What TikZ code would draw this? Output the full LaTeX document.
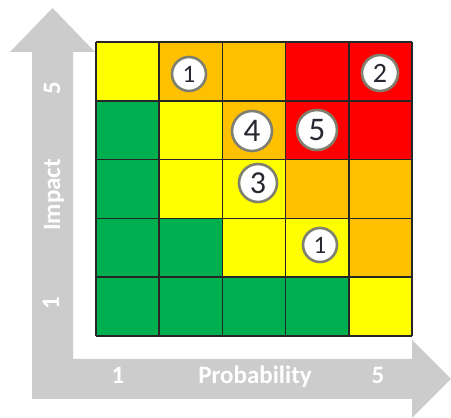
\documentclass[tikz,border=0pt]{standalone}
\usepackage{fontspec}
\setmainfont{Carlito}
\usepackage{xcolor}
\usepackage{tikz}
\usetikzlibrary{calc, positioning}

\definecolor{rgreen}{RGB}{0,176,80}
\definecolor{ryellow}{RGB}{255,255,0}
\definecolor{rorange}{RGB}{255,192,0}
\definecolor{rred}{RGB}{255,0,0}
\definecolor{arrowgray}{RGB}{204,204,204}
\definecolor{ringgray}{RGB}{128,128,112}
\definecolor{digitdark}{RGB}{40,40,50}

\tikzset{
    axislabel/.style={text=white, font=\bfseries\fontsize{12.5}{14}\selectfont, inner sep=0pt},
    riskdot/.style={circle, draw=ringgray, line width=1.3pt, fill=white, inner sep=0pt, text=digitdark}
}

\begin{document}
\begin{tikzpicture}[>=latex, x=0.5pt, y=0.5pt]
    \useasboundingbox[fill=white] (0,0) rectangle (451,418);

    % 1. Mũi tên chữ L màu xám (trục Impact và Probability)
    \fill[arrowgray] (32,19) -- (412,19) -- (412,0) -- (451,39) -- (412,78) -- (412,59)
        -- (73,59) -- (73,366) -- (95,366) -- (52.5,410) -- (10,366) -- (32,366) -- cycle;

    % Nhãn trên trục đứng
    \node[axislabel, rotate=90] (imp5) at (52,330) {5};
    \node[axislabel, rotate=90] (impact) at (54,223) {Impact};
    \node[axislabel, rotate=90] (imp1) at (51,115) {1};

    % Nhãn trên trục ngang
    \node[axislabel, anchor=base] (prob1) at (118,34) {1};
    \node[axislabel, anchor=base] (prob) at (255,34) {Probability};
    \node[axislabel, anchor=base] (prob5) at (378,34) {5};

    % 2. Các ô màu của ma trận rủi ro (hàng 1 ở dưới cùng)
    \foreach \r/\row in {1/{rgreen,rgreen,rgreen,rgreen,ryellow},
                         2/{rgreen,rgreen,ryellow,ryellow,rorange},
                         3/{rgreen,ryellow,ryellow,rorange,rorange},
                         4/{rgreen,ryellow,rorange,rred,rred},
                         5/{ryellow,rorange,rorange,rred,rred}} {
        \foreach \k [count=\c] in \row {
            \fill[\k] ({96+(\c-1)*63.2},{82+(\r-1)*58.8}) rectangle ++(63.2,58.8);
        }
    }

    % Các đường lưới màu đen
    \foreach \i in {0,...,5} {
        \draw[black!85, line width=0.8pt] ({96+\i*63.2},82) -- ({96+\i*63.2},376);
        \draw[black!85, line width=0.8pt] (96,{82+\i*58.8}) -- (412,{82+\i*58.8});
    }

    % 3. Các vòng tròn đánh số
    \node[riskdot, minimum size=17pt, font=\fontsize{12.5}{14}\selectfont] (riskA) at (189,344) {1};
    \node[riskdot, minimum size=18pt, font=\fontsize{14}{16}\selectfont] (riskB) at (380,345) {2};
    \node[riskdot, minimum size=20pt, font=\fontsize{16.5}{18}\selectfont] (riskD) at (252,287) {4};
    \node[riskdot, minimum size=20pt, font=\fontsize{16.5}{18}\selectfont] (riskE) at (317,288) {5};
    \node[riskdot, minimum size=19pt, font=\fontsize{16}{18}\selectfont] (riskC) at (258,235) {3};
    \node[riskdot, minimum size=17pt, font=\fontsize{12.5}{14}\selectfont] (riskF) at (320,173) {1};

\end{tikzpicture}
\end{document}
